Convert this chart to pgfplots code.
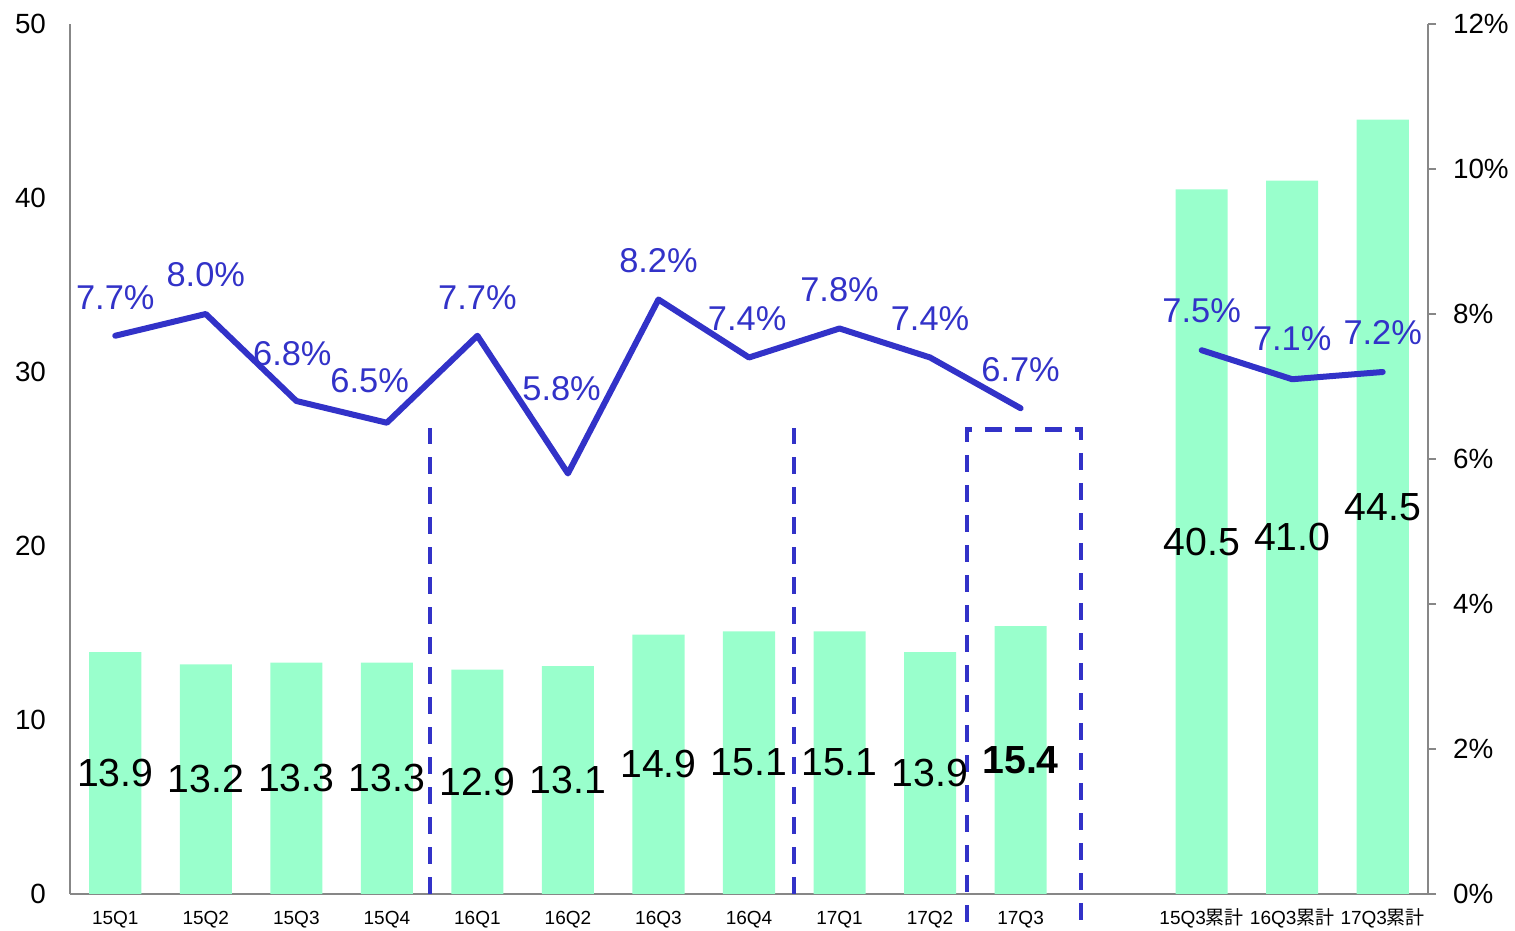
\documentclass[border=0pt]{standalone}
\usepackage{pgfplots}
\pgfplotsset{compat=1.18}
\usepackage{pgfplotstable}
\usepackage{fontspec}
\setmainfont{Liberation Sans}
\newfontfamily\cjk{Noto Sans CJK JP}
\definecolor{barc}{HTML}{99FFCC}
\definecolor{linec}{HTML}{3232C8}
\definecolor{axc}{HTML}{878787}

\pgfplotstableread{
x v
0 13.9
1 13.2
2 13.3
3 13.3
4 12.9
5 13.1
6 14.9
7 15.1
8 15.1
9 13.9
10 15.4
12 40.5
13 41.0
14 44.5
}\bars

\pgfplotstableread{
x r
0 7.7
1 8.0
2 6.8
3 6.5
4 7.7
5 5.8
6 8.2
7 7.4
8 7.8
9 7.4
10 6.7
}\rateq

\pgfplotstableread{
x r
12 7.5
13 7.1
14 7.2
}\ratec

\begin{document}
\begin{tikzpicture}
\path[use as bounding box] (-35pt,-18.5pt) rectangle (722.5pt,447pt);
\begin{axis}[
  at={(0,0)}, anchor=south west,
  scale only axis, width=679pt, height=435pt,
  xmin=-0.5, xmax=14.5, ymin=0, ymax=50,
  axis x line*=bottom, axis y line*=left,
  axis line style={axc, line width=1pt, -},
  xtick={0,1,2,3,4,5,6,7,8,9,10,12,13,14},
  xticklabels={15Q1,15Q2,15Q3,15Q4,16Q1,16Q2,16Q3,16Q4,17Q1,17Q2,17Q3,15Q3{\cjk 累計},16Q3{\cjk 累計},17Q3{\cjk 累計}},
  ytick={0,10,20,30,40,50},
  major tick length=0pt,
  tick style={draw=none},
  xticklabel style={font=\fontsize{9.5}{10}\selectfont, anchor=base, yshift=-15.5pt},
  yticklabel style={font=\fontsize{13.9}{15}\selectfont, xshift=-8.5pt},
  /pgf/number format/assume math mode=true,
  clip=false,
]
\addplot[ybar, bar width=0.575, bar shift=0pt, fill=barc, draw=none, forget plot] table[x=x, y=v] {\bars};
\addplot[draw=none, mark=none, forget plot,
  x filter/.expression={x==10 ? nan : x},
  point meta=\thisrow{v},
  nodes near coords={\pgfmathprintnumber[fixed,precision=1,zerofill]{\pgfplotspointmeta}},
  every node near coord/.style={anchor=center, font=\fontsize{19.6}{21}\selectfont, text=black, inner sep=0pt}
] table[x=x, y expr=\thisrow{v}/2] {\bars};
\addplot[draw=none, mark=none, forget plot,
  x filter/.expression={x==10 ? x : nan},
  point meta=\thisrow{v},
  nodes near coords={\pgfmathprintnumber[fixed,precision=1,zerofill]{\pgfplotspointmeta}},
  every node near coord/.style={anchor=center, font=\fontsize{19.6}{21}\selectfont\bfseries, text=black, inner sep=0pt}
] table[x=x, y expr=\thisrow{v}/2] {\bars};
\addplot[linec, line width=2.1pt, dash pattern=on 8.5pt off 6.5pt, forget plot] coordinates {(3.48,0) (3.48,26.8)};
\addplot[linec, line width=2.1pt, dash pattern=on 8.5pt off 6.5pt, forget plot] coordinates {(7.5,0) (7.5,26.8)};
\addplot[linec, line width=2.1pt, dash pattern=on 8.5pt off 6.5pt, forget plot] coordinates {(9.41,-1.6) (9.41,26.7) (10.67,26.7) (10.67,-2.2)};
\end{axis}
\begin{axis}[
  at={(0,0)}, anchor=south west,
  scale only axis, width=679pt, height=435pt,
  xmin=-0.5, xmax=14.5, ymin=0, ymax=12,
  axis y line*=right, axis x line=none,
  axis line style={axc, line width=1pt, -},
  ytick={0,2,4,6,8,10,12},
  yticklabel={\pgfmathprintnumber{\tick}\%},
  tick align=outside, major tick length=4pt,
  ytick style={axc, line width=1pt},
  yticklabel style={font=\fontsize{13.9}{15}\selectfont, xshift=5pt},
  /pgf/number format/assume math mode=true,
  clip=false,
]
\addplot[linec, line width=3pt, line join=round, line cap=round, mark=none] table[x=x, y=r] {\rateq};
\addplot[linec, line width=3pt, line join=round, line cap=round, mark=none] table[x=x, y=r] {\ratec};
\begin{scope}[every node/.style={font=\fontsize{17.2}{18}\selectfont, text=linec, inner sep=0pt}]
\node at (axis cs:0,8.23) {7.7\%};
\node at (axis cs:1,8.54) {8.0\%};
\node at (axis cs:1.956,7.45) {6.8\%};
\node at (axis cs:2.81,7.08) {6.5\%};
\node at (axis cs:4,8.23) {7.7\%};
\node at (axis cs:4.93,6.97) {5.8\%};
\node at (axis cs:6,8.74) {8.2\%};
\node at (axis cs:6.98,7.94) {7.4\%};
\node at (axis cs:8,8.33) {7.8\%};
\node at (axis cs:9,7.93) {7.4\%};
\node at (axis cs:10,7.23) {6.7\%};
\node at (axis cs:12,8.04) {7.5\%};
\node at (axis cs:13,7.66) {7.1\%};
\node at (axis cs:14,7.75) {7.2\%};
\end{scope}
\end{axis}
\end{tikzpicture}
\end{document}
